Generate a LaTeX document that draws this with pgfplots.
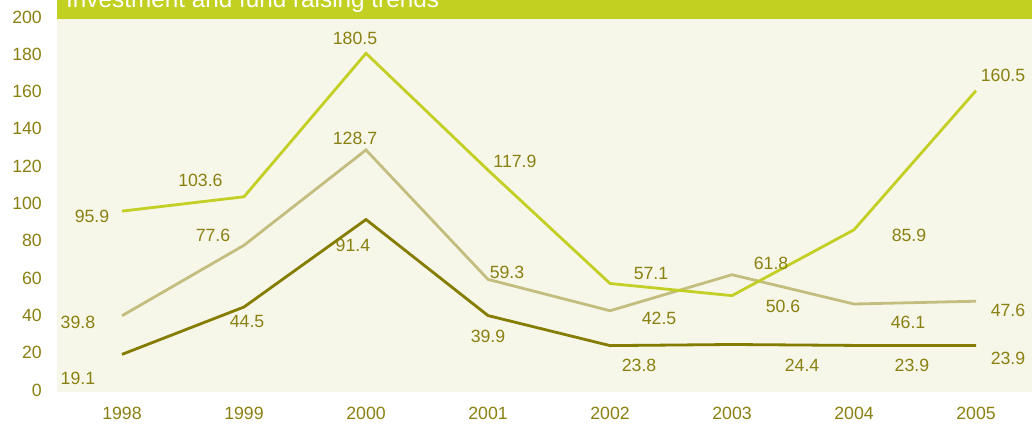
\documentclass[border=0pt]{standalone}
\usepackage{pgfplots}
\pgfplotsset{compat=1.18}
\usepackage{fontspec}
\setmainfont{Liberation Sans}
\definecolor{bgcream}{HTML}{F6F7E8}
\definecolor{titlegreen}{HTML}{C2D021}
\definecolor{txtolive}{HTML}{8A8012}
\definecolor{cgreen}{HTML}{C3CF25}
\definecolor{ctan}{HTML}{C4BD80}
\definecolor{cdark}{HTML}{857C00}
\tikzset{lbl/.style={font=\fontsize{17.7}{20}\selectfont, text=txtolive, inner sep=0pt, anchor=center}}
\begin{document}
\begin{tikzpicture}
\begin{axis}[
  scale only axis,
  width=975pt, height=392pt,
  xmin=-0.5328, xmax=7.459,
  ymin=-1.07, ymax=209.1,
  axis line style={draw=none},
  axis background/.style={fill=bgcream},
  major tick length=0pt,
  xtick={0,...,7},
  xticklabels={1998,1999,2000,2001,2002,2003,2004,2005},
  ytick={0,20,...,200},
  /pgf/number format/assume math mode=true,
  ticklabel style={font=\fontsize{17.7}{20}\selectfont, text=txtolive, inner sep=0pt},
  xticklabel style={anchor=center, yshift=-21pt},
  yticklabel style={anchor=east, xshift=-15pt},
  clip=false,
]
\fill[titlegreen] (axis cs:-0.5328,198.9) rectangle (axis cs:7.459,209.1);
\node[anchor=base west, inner sep=0pt, text=white, font=\fontsize{24.3}{28}\selectfont] at (axis cs:-0.459,205.2) {Investment and fund raising trends};

\addplot[ctan, line width=2.8pt, mark=none] coordinates {
  (0,39.8) (1,77.6) (2,128.7) (3,59.3) (4,42.5) (5,61.8) (6,46.1) (7,47.6)};
\addplot[cdark, line width=2.8pt, mark=none] coordinates {
  (0,19.1) (1,44.5) (2,91.4) (3,39.9) (4,23.8) (5,24.4) (6,23.9) (7,23.9)};
\addplot[cgreen, line width=2.8pt, mark=none] coordinates {
  (0,95.9) (1,103.6) (2,180.5) (3,117.9) (4,57.1) (5,50.6) (6,85.9) (7,160.5)};

% light green labels
\node[lbl] at (axis cs:-0.246,93.3) {95.9};
\node[lbl] at (axis cs:0.643,112.6) {103.6};
\node[lbl] at (axis cs:1.910,188.7) {180.5};
\node[lbl] at (axis cs:3.221,122.3) {117.9};
\node[lbl] at (axis cs:4.336,62.7) {57.1};
\node[lbl] at (axis cs:5.418,45.0) {50.6};
\node[lbl] at (axis cs:6.451,83.1) {85.9};
\node[lbl] at (axis cs:7.221,168.9) {160.5};
% tan labels
\node[lbl] at (axis cs:-0.361,36.5) {39.8};
\node[lbl] at (axis cs:0.746,83.1) {77.6};
\node[lbl] at (axis cs:1.910,135.1) {128.7};
\node[lbl] at (axis cs:3.156,63.3) {59.3};
\node[lbl] at (axis cs:4.402,38.6) {42.5};
\node[lbl] at (axis cs:5.320,68.1) {61.8};
\node[lbl] at (axis cs:6.443,36.5) {46.1};
\node[lbl] at (axis cs:7.262,42.9) {47.6};
% dark labels
\node[lbl] at (axis cs:-0.361,6.4) {19.1};
\node[lbl] at (axis cs:1.025,36.5) {44.5};
\node[lbl] at (axis cs:1.893,77.7) {91.4};
\node[lbl] at (axis cs:3.000,29.0) {39.9};
\node[lbl] at (axis cs:4.238,13.4) {23.8};
\node[lbl] at (axis cs:5.574,13.4) {24.4};
\node[lbl] at (axis cs:6.475,13.4) {23.9};
\node[lbl] at (axis cs:7.262,17.2) {23.9};
\end{axis}
\pgfresetboundingbox
\path[use as bounding box] (-57pt,-35pt) rectangle (975pt,392pt);
\end{tikzpicture}
\end{document}
